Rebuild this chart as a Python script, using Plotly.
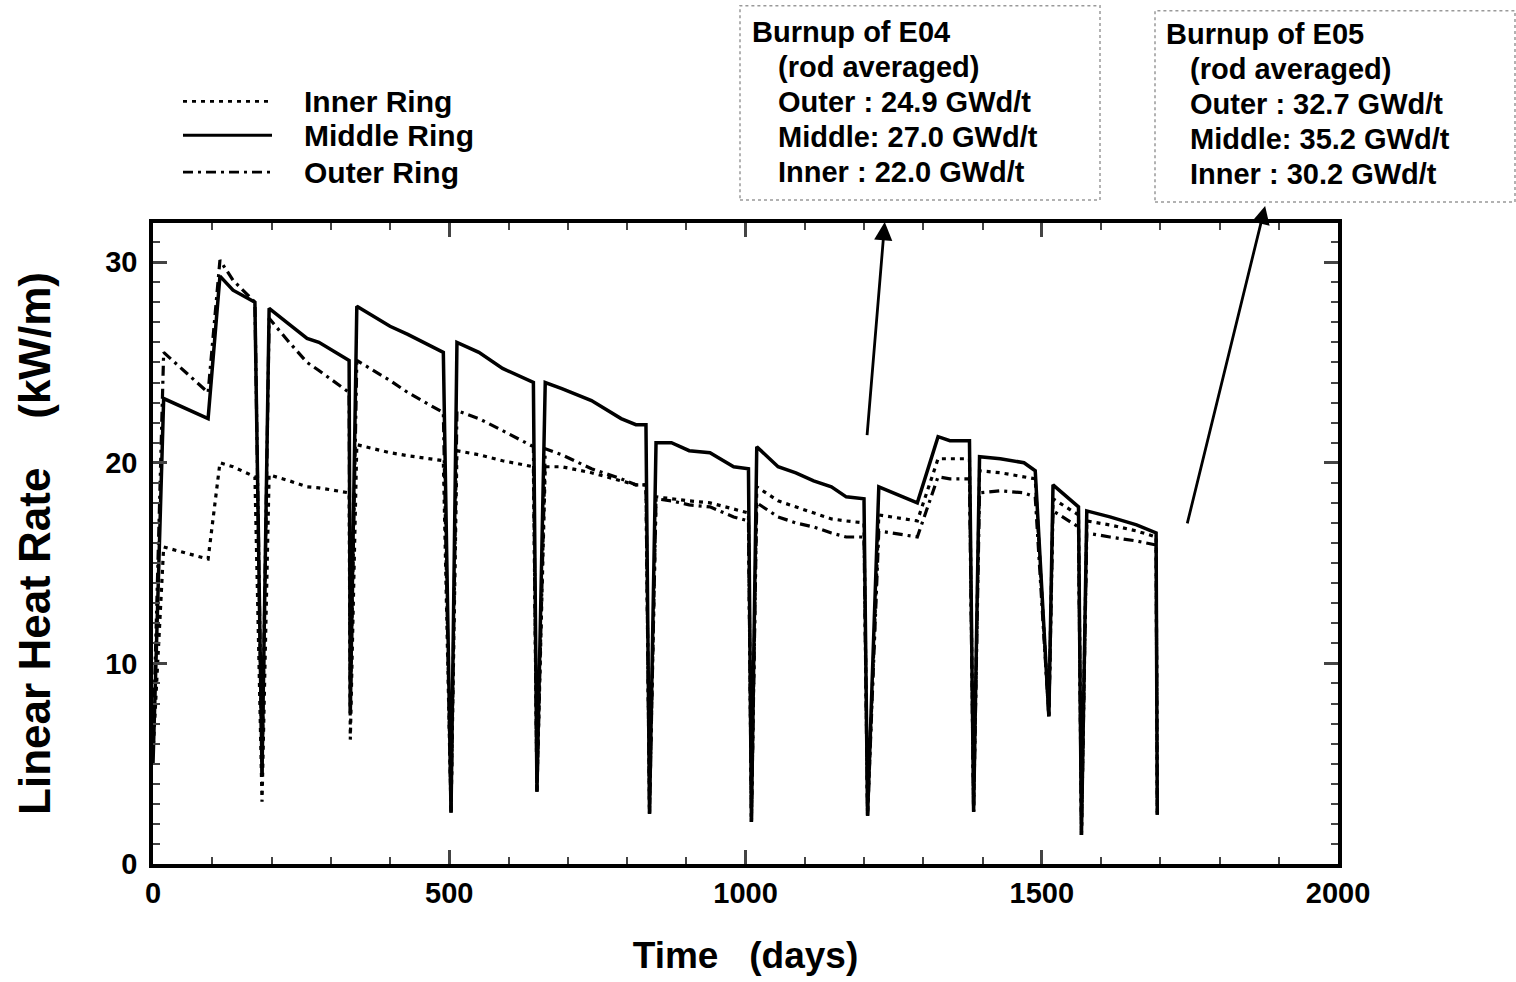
import plotly.graph_objects as go

# ---- data ----
days = [0, 18, 93, 113, 135, 172, 184, 196, 230, 260, 280, 331, 333, 344, 400, 430, 490, 503, 513,
        550, 590, 642, 648, 662, 690, 740, 790, 815, 832, 838, 849, 875, 905, 940, 980, 1005, 1010,
        1019, 1055, 1085, 1115, 1145, 1170, 1200, 1206, 1225, 1290, 1325, 1345, 1378, 1385, 1395,
        1430, 1470, 1489, 1512, 1519, 1562, 1567, 1576, 1615, 1660, 1693, 1695]

inner_ring = [5.5, 15.8, 15.2, 20.0, 19.8, 19.3, 3.1, 19.4, 19.1, 18.8, 18.75, 18.5, 6.2, 20.9, 20.5,
              20.35, 20.1, 2.55, 20.6, 20.4, 20.1, 19.8, 3.6, 19.8, 19.8, 19.5, 19.1, 18.9, 18.9, 2.5,
              18.3, 18.2, 18.1, 18.0, 17.7, 17.5, 2.1, 18.8, 18.1, 17.8, 17.5, 17.2, 17.1, 17.0, 2.4,
              17.4, 17.1, 20.2, 20.2, 20.2, 2.6, 19.6, 19.5, 19.3, 19.2, 7.35, 18.2, 17.4, 1.45, 17.1,
              16.9, 16.6, 16.3, 2.45]

middle_ring = [5.0, 23.2, 22.2, 29.3, 28.6, 28.0, 4.5, 27.7, 26.9, 26.2, 26.0, 25.1, 7.5, 27.8, 26.8,
               26.4, 25.5, 2.55, 26.0, 25.5, 24.7, 24.0, 3.6, 24.0, 23.7, 23.1, 22.2, 21.9, 21.9, 2.5,
               21.0, 21.0, 20.6, 20.5, 19.8, 19.7, 2.1, 20.8, 19.8, 19.5, 19.1, 18.8, 18.3, 18.2, 2.4,
               18.8, 18.0, 21.3, 21.1, 21.1, 2.6, 20.3, 20.2, 20.0, 19.6, 7.35, 18.9, 17.8, 1.45, 17.6,
               17.3, 16.9, 16.5, 2.45]

outer_ring = [6.0, 25.5, 23.5, 30.1, 29.1, 28.0, 4.5, 27.2, 26.0, 25.0, 24.6, 23.5, 7.5, 25.1, 24.1,
              23.5, 22.5, 2.55, 22.6, 22.2, 21.6, 20.8, 3.6, 20.7, 20.4, 19.7, 19.2, 18.9, 18.9, 2.5,
              18.2, 18.1, 17.9, 17.8, 17.3, 17.1, 2.1, 18.0, 17.3, 17.0, 16.8, 16.5, 16.3, 16.3, 2.4,
              16.6, 16.3, 19.3, 19.2, 19.2, 2.6, 18.5, 18.6, 18.5, 18.3, 7.35, 17.6, 16.8, 1.45, 16.5,
              16.3, 16.1, 15.9, 2.45]

series_names = ["Inner Ring", "Middle Ring", "Outer Ring"]
e04_lines = ["Burnup of E04", "(rod averaged)", "Outer : 24.9 GWd/t", "Middle: 27.0 GWd/t", "Inner : 22.0 GWd/t"]
e05_lines = ["Burnup of E05", "(rod averaged)", "Outer : 32.7 GWd/t", "Middle: 35.2 GWd/t", "Inner : 30.2 GWd/t"]

FONT = "Liberation Sans, Arial, Helvetica, sans-serif"
DASHES = ["4px,5px", "solid", "10px,5px,3px,5px"]
WIDTHS = [3.2, 3.5, 3.2]

fig = go.Figure()
for name, vals, dash, w in zip(series_names, [inner_ring, middle_ring, outer_ring], DASHES, WIDTHS):
    fig.add_trace(go.Scatter(x=days, y=vals, mode="lines", name=name,
                             line=dict(color="black", width=w, dash=dash)))

W, H = 1516, 982
ml, mr, mt, mb = 153, 178, 223, 116
pw, ph = W - ml - mr, H - mt - mb

def px(x):
    return (x - ml) / pw

def py(y):
    return (H - mb - y) / ph

shapes = []
annotations = []

def txt(s):
    return "<b>" + s + "</b>"

# manual legend
for i, (name, dash) in enumerate(zip(series_names, DASHES)):
    yy = [101, 135, 172][i]
    shapes.append(dict(type="line", xref="paper", yref="paper", x0=px(183), x1=px(272), y0=py(yy), y1=py(yy),
                       line=dict(color="black", width=2.8, dash=dash)))
    annotations.append(dict(xref="paper", yref="paper", x=px(302), y=py(yy), text=txt(name), showarrow=False,
                            xanchor="left", yanchor="middle", font=dict(family=FONT, size=30, color="black")))

# burnup boxes
for lines, (bx0, bx1, by0, by1), (tx0, tx1) in [
        (e04_lines, (740, 1100, 5, 200), (750, 776)),
        (e05_lines, (1155, 1515, 10, 202), (1164, 1188))]:
    shapes.append(dict(type="rect", xref="paper", yref="paper", x0=px(bx0), x1=px(bx1), y0=py(by1), y1=py(by0),
                       line=dict(color="#999999", width=1.5, dash="dot")))
    for j, t in enumerate(lines):
        yy = [31, 67, 102, 137, 172][j] + (2 if bx0 > 1000 else 0)
        annotations.append(dict(xref="paper", yref="paper", x=px(tx0 if j == 0 else tx1), y=py(yy), text=txt(t),
                                showarrow=False, xanchor="left", yanchor="middle",
                                font=dict(family=FONT, size=29, color="black")))

# arrows
for (hx, hy, tx, ty) in [(1235, 32.0, 1205, 21.3), (1877, 32.8, 1745, 16.9)]:
    annotations.append(dict(x=hx, y=hy, ax=tx, ay=ty, xref="x", yref="y", axref="x", ayref="y",
                            showarrow=True, arrowhead=2, arrowsize=1.3, arrowwidth=2.8, arrowcolor="black",
                            text=""))

fig.update_layout(
    width=W, height=H,
    margin=dict(l=ml, r=mr, t=mt, b=mb),
    paper_bgcolor="white", plot_bgcolor="white",
    showlegend=False,
    font=dict(family=FONT, size=28, color="black"),
    shapes=shapes, annotations=annotations,
    xaxis=dict(range=[0, 2000], tickvals=[0, 500, 1000, 1500, 2000],
               ticktext=[txt(s) for s in ["0", "500", "1000", "1500", "2000"]],
               ticks="inside", ticklen=14, tickwidth=2.5,
               showline=True, linewidth=3.5, linecolor="black", mirror="ticks", showgrid=False, zeroline=False,
               minor=dict(dtick=100, ticks="inside", ticklen=7, tickwidth=1.8, showgrid=False),
               tickfont=dict(size=29), ticklabelstandoff=0,
               title=dict(text=txt("Time\u00a0\u00a0\u00a0(days)"), font=dict(size=37), standoff=36)),
    yaxis=dict(range=[0, 31.95], tickvals=[0, 10, 20, 30],
               ticktext=[txt(s) for s in ["0", "10", "20", "30"]],
               ticks="inside", ticklen=14, tickwidth=2.5,
               showline=True, linewidth=3.5, linecolor="black", mirror="ticks", showgrid=False, zeroline=False,
               minor=dict(dtick=1, ticks="inside", ticklen=7, tickwidth=1.8, showgrid=False),
               tickfont=dict(size=29), ticklabelstandoff=6,
               title=dict(text=txt("Linear Heat Rate\u00a0\u00a0\u00a0\u00a0(kW/m)"), font=dict(size=44), standoff=42)),
)

fig.write_html("out.html")
